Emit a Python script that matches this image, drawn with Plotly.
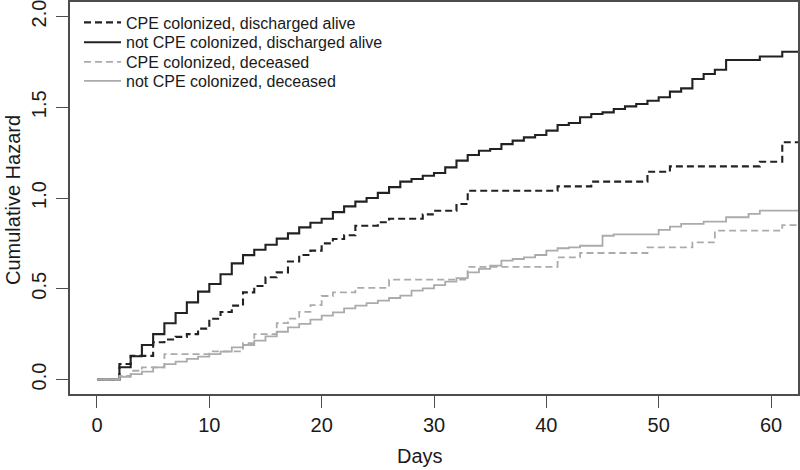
import plotly.graph_objects as go

# ---- data (step changes of Nelson-Aalen curves) ----
END_DAY = 62.4

cpe_alive_days = [0, 2, 3, 5, 6, 7, 8, 9, 10, 11, 12, 13, 14, 15, 16, 17, 18, 19, 20, 21, 22, 23,
                  25, 26, 29, 30, 32, 33, 41, 44, 49, 51, 59, 61]
cpe_alive_haz = [0, 0.085, 0.13, 0.205, 0.22, 0.235, 0.25, 0.28, 0.335, 0.372, 0.407, 0.48, 0.515,
                 0.563, 0.59, 0.65, 0.686, 0.71, 0.75, 0.774, 0.795, 0.847, 0.866, 0.886, 0.91,
                 0.93, 0.967, 1.04, 1.064, 1.09, 1.145, 1.174, 1.2, 1.307]

notcpe_alive_days = [0, 2, 3, 4, 5, 6, 7, 8, 9, 10, 11, 12, 13, 14, 15, 16, 17, 18, 19, 20, 21, 22,
                     23, 24, 25, 26, 27, 28, 29, 30, 31, 32, 33, 34, 35, 36, 37, 38, 39, 40, 41, 42,
                     43, 44, 45, 46, 47, 48, 49, 50, 51, 52, 53, 54, 55, 56, 59, 61]
notcpe_alive_haz = [0, 0.067, 0.128, 0.19, 0.25, 0.31, 0.366, 0.425, 0.484, 0.526, 0.58, 0.64,
                    0.685, 0.715, 0.742, 0.776, 0.805, 0.838, 0.864, 0.886, 0.922, 0.954, 0.98,
                    1.0, 1.028, 1.06, 1.09, 1.105, 1.123, 1.138, 1.169, 1.206, 1.237, 1.26, 1.27,
                    1.297, 1.316, 1.334, 1.347, 1.371, 1.402, 1.413, 1.445, 1.463, 1.472, 1.49,
                    1.505, 1.518, 1.536, 1.555, 1.586, 1.604, 1.656, 1.683, 1.707, 1.76, 1.78, 1.806]

cpe_dead_days = [0, 2, 3, 4, 6, 10, 13, 14, 16, 17, 18, 19, 20, 21, 23, 26, 33, 41, 43, 49, 53, 55, 61]
cpe_dead_haz = [0, 0.02, 0.048, 0.067, 0.14, 0.155, 0.2, 0.25, 0.31, 0.335, 0.372, 0.41, 0.46,
                0.48, 0.505, 0.55, 0.62, 0.673, 0.697, 0.728, 0.756, 0.82, 0.851]

notcpe_dead_days = [0, 2, 3, 4, 5, 6, 7, 8, 9, 10, 11, 12, 13, 14, 15, 16, 17, 18, 19, 20, 21, 22,
                    23, 24, 25, 26, 27, 28, 29, 30, 31, 32, 33, 34, 35, 36, 37, 38, 39, 40, 41, 42,
                    43, 45, 46, 50, 51, 52, 54, 56, 58, 59]
notcpe_dead_haz = [0, 0.015, 0.03, 0.043, 0.067, 0.085, 0.098, 0.113, 0.126, 0.14, 0.153, 0.177,
                   0.19, 0.214, 0.238, 0.263, 0.287, 0.306, 0.33, 0.352, 0.37, 0.392, 0.407, 0.421,
                   0.434, 0.449, 0.462, 0.49, 0.502, 0.52, 0.539, 0.558, 0.59, 0.609, 0.627, 0.655,
                   0.664, 0.673, 0.686, 0.71, 0.723, 0.728, 0.737, 0.792, 0.80, 0.824, 0.842,
                   0.857, 0.87, 0.894, 0.912, 0.93]

names = ["CPE colonized, discharged alive", "not CPE colonized, discharged alive",
         "CPE colonized, deceased", "not CPE colonized, deceased"]

x_ticks = [0, 10, 20, 30, 40, 50, 60]
y_ticks = [0.0, 0.5, 1.0, 1.5, 2.0]
y_tick_labels = ["0.0", "0.5", "1.0", "1.5", "2.0"]

DARK = "#222222"
GRAY = "#ababab"
AXIS = "#4d4d4d"
FONT = "Liberation Sans, Arial, sans-serif"

# plot area in pixels
L, R, T, B = 70, 798, 2, 394
PW, PH = R - L, B - T

series = [
    (cpe_alive_days, cpe_alive_haz, names[0], DARK, "7px,4px", 2.1),
    (notcpe_alive_days, notcpe_alive_haz, names[1], DARK, "solid", 2.1),
    (cpe_dead_days, cpe_dead_haz, names[2], GRAY, "7px,4px", 1.8),
    (notcpe_dead_days, notcpe_dead_haz, names[3], GRAY, "solid", 1.8),
]
legend_rows_px = [22.5, 42.3, 62.0, 81.0]
legend_ids = ["legend", "legend2", "legend3", "legend4"]

fig = go.Figure()
for (days, haz, name, color, dash, w), lid in zip(series, legend_ids):
    fig.add_trace(go.Scatter(
        x=list(days) + [END_DAY], y=list(haz) + [haz[-1]],
        mode="lines", line=dict(shape="hv", color=color, dash=dash, width=w),
        name=name, hoverinfo="skip", legend=lid))

legend_common = dict(xanchor="left", yanchor="middle", bgcolor="rgba(0,0,0,0)",
                     borderwidth=0, font=dict(size=16, family=FONT, color="#1a1a1a"),
                     itemwidth=37)
legend_layouts = {}
for lid, py in zip(legend_ids, legend_rows_px):
    legend_layouts[lid] = dict(x=(79 - L) / PW, y=(B - py) / PH, **legend_common)

fig.update_layout(
    width=800, height=470,
    margin=dict(l=L, r=800 - R, t=T, b=470 - B, autoexpand=False),
    paper_bgcolor="white", plot_bgcolor="white",
    font=dict(family=FONT, size=20, color="#1a1a1a"),
    showlegend=True,
    **legend_layouts,
    xaxis=dict(range=[-2.4, 62.4], tickmode="array", tickvals=x_ticks,
               ticks="outside", ticklen=12, tickwidth=1.3, tickcolor=AXIS,
               showline=True, linecolor=AXIS, linewidth=1.6, mirror=True,
               showgrid=False, zeroline=False, ticklabelstandoff=0,
               ticklabeloverflow="allow", automargin=False, tickfont=dict(size=20)),
    yaxis=dict(range=[-0.08, 2.08], tickmode="array", tickvals=y_ticks,
               ticktext=y_tick_labels, tickangle=-90,
               ticks="outside", ticklen=12, tickwidth=1.3, tickcolor=AXIS,
               showline=True, linecolor=AXIS, linewidth=1.6, mirror=True,
               showgrid=False, zeroline=False, ticklabelstandoff=2,
               ticklabeloverflow="allow", automargin=False, tickfont=dict(size=20)),
    annotations=[
        dict(text="Days", xref="paper", yref="paper", x=(420 - L) / PW, y=-(456 - B) / PH,
             showarrow=False, xanchor="center", yanchor="middle", font=dict(size=20)),
        dict(text="Cumulative Hazard", xref="paper", yref="paper", x=-(L - 13) / PW,
             y=(B - 200) / PH, showarrow=False, textangle=-90, xanchor="center",
             yanchor="middle", font=dict(size=20)),
    ],
)

fig.write_html("out.html", config={"displayModeBar": False},
               post_script="document.body.style.margin='0';document.body.style.overflow='hidden';")
